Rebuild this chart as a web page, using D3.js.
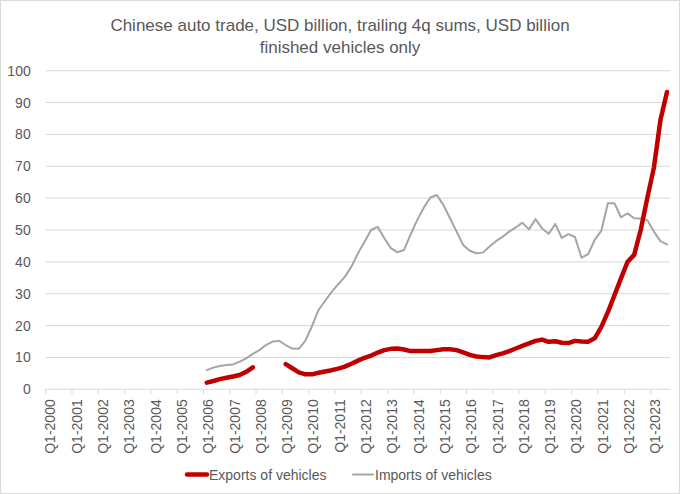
<!DOCTYPE html>
<html>
<head>
<meta charset="utf-8">
<script src="https://cdn.jsdelivr.net/npm/d3@7"></script>
<style>
  body { margin: 0; background: #fff; }
  svg { display: block; font-family: "Liberation Sans", Arial, sans-serif; }
</style>
</head>
<body>
<svg id="chart" width="680" height="494"></svg>
<script>
// categories: Q1-2000 .. Q3-2023
const years = d3.range(2000, 2024);
const quarters = years.flatMap((y) => ["Q1", "Q2", "Q3", "Q4"].map((q) => `${q}-${y}`)).slice(0, 95);
const tickLabels = years.map((y) => `Q1-${y}`);
const yTicks = [0, 10, 20, 30, 40, 50, 60, 70, 80, 90, 100];

// series values, USD billion (null = no data)
const empty24 = new Array(24).fill(null);
const exportsVals = empty24.concat([
  2.1, 2.6, 3.2, 3.6, 4.0, 4.5, 5.5, 6.9,
  null, null, null, null,
  7.9, 6.6, 5.3, 4.7, 4.7, 5.2, 5.6, 6.0,
  6.5, 7.1, 8.0, 9.0, 9.9, 10.6, 11.5, 12.3,
  12.7, 12.8, 12.5, 12.0, 12.0, 12.0, 12.0, 12.3,
  12.6, 12.6, 12.3, 11.6, 10.8, 10.3, 10.1, 10.0,
  10.7, 11.3, 12.0, 12.8, 13.6, 14.4, 15.2, 15.6,
  14.9, 15.1, 14.6, 14.5, 15.2, 15.0, 14.9, 16.0,
  19.5, 24.2, 29.5, 34.8, 40.0, 42.2, 50.0, 60.0,
  69.5, 84.5, 93.3
]);
const importsVals = empty24.concat([
  6.0, 6.8, 7.3, 7.6, 7.8, 8.7, 9.7, 11.1,
  12.3, 13.9, 15.0, 15.2, 13.9, 12.8, 12.7, 15.3,
  19.8, 24.9, 27.8, 30.6, 33.0, 35.3, 38.5, 42.7,
  46.3, 50.0, 51.0, 47.4, 44.3, 43.0, 43.7, 48.6,
  53.1, 57.0, 60.2, 61.0, 57.8, 53.7, 49.5, 45.3,
  43.5, 42.7, 42.9, 44.8, 46.5, 47.9, 49.5, 50.8,
  52.3, 50.2, 53.4, 50.5, 48.8, 51.9, 47.5, 48.7,
  47.8, 41.3, 42.4, 46.9, 49.7, 58.4, 58.4, 54.0,
  55.2, 53.7, 53.6, 53.1, 49.5, 46.5, 45.5
]);

const series = [
  { name: "Exports of vehicles", values: exportsVals, color: "#c00000", width: 4.5 },
  { name: "Imports of vehicles", values: importsVals, color: "#a5a5a5", width: 2 }
];

const svg = d3.select("#chart");
const W = 680, H = 494;
const plot = { left: 45.7, right: 670.3, top: 70.7, bottom: 389.3 };
const textColor = "#595959";
const gridColor = "#d9d9d9";

// chart border
svg.append("rect")
  .attr("x", 0.5).attr("y", 0.5)
  .attr("width", W - 1).attr("height", H - 1)
  .attr("fill", "#fff").attr("stroke", gridColor);

// title
const title = svg.append("text")
  .attr("text-anchor", "middle")
  .attr("fill", textColor)
  .style("font-size", "17px");
title.append("tspan").attr("x", W / 2).attr("y", 31)
  .text("Chinese auto trade, USD billion, trailing 4q sums, USD billion");
title.append("tspan").attr("x", W / 2).attr("y", 53)
  .text("finished vehicles only");

// scales
const x = d3.scaleBand()
  .domain(quarters)
  .range([plot.left, plot.right])
  .paddingInner(0).paddingOuter(0);

const y = d3.scaleLinear()
  .domain([0, 100])
  .range([plot.bottom, plot.top]);

// gridlines
svg.append("g")
  .selectAll("line")
  .data(yTicks.filter((d) => d > 0))
  .join("line")
  .attr("x1", plot.left).attr("x2", plot.right)
  .attr("y1", (d) => y(d)).attr("y2", (d) => y(d))
  .attr("stroke", gridColor).attr("stroke-width", 1);

// y axis labels
const yAxis = svg.append("g")
  .attr("transform", `translate(${plot.left},0)`)
  .call(d3.axisLeft(y).tickValues(yTicks).tickSize(0).tickPadding(15));
yAxis.select(".domain").remove();
yAxis.selectAll("text")
  .attr("fill", textColor)
  .style("font-size", "14px")
  .style("font-family", "'Liberation Sans', Arial, sans-serif");

// x axis line + ticks every 4 quarters (at category boundaries)
const xg = svg.append("g");
xg.append("line")
  .attr("x1", plot.left).attr("x2", plot.right)
  .attr("y1", plot.bottom).attr("y2", plot.bottom)
  .attr("stroke", gridColor);
xg.selectAll("line.tick")
  .data(tickLabels)
  .join("line")
  .attr("class", "tick")
  .attr("x1", (d) => x(d)).attr("x2", (d) => x(d))
  .attr("y1", plot.bottom).attr("y2", plot.bottom + 5)
  .attr("stroke", gridColor);
xg.selectAll("text")
  .data(tickLabels)
  .join("text")
  .attr("transform", (d) => `translate(${x(d) + x.bandwidth() / 2 + 6.5},${plot.bottom + 10}) rotate(-90)`)
  .attr("text-anchor", "end")
  .attr("fill", textColor)
  .style("font-size", "14px")
  .text((d) => d);

// lines
const line = d3.line()
  .defined((d) => d.v != null)
  .x((d) => x(d.q) + x.bandwidth() / 2)
  .y((d) => y(d.v));

svg.append("g")
  .selectAll("path")
  .data(series.slice().reverse())
  .join("path")
  .attr("fill", "none")
  .attr("stroke", (s) => s.color)
  .attr("stroke-width", (s) => s.width)
  .attr("stroke-linejoin", "round")
  .attr("stroke-linecap", "round")
  .attr("d", (s) => line(s.values.map((v, i) => ({ q: quarters[i], v }))));

// legend
const legendItems = [
  { s: series[0], x: 187 },
  { s: series[1], x: 353 }
];
const lg = svg.append("g").attr("transform", "translate(0,474.5)");
lg.selectAll("line")
  .data(legendItems)
  .join("line")
  .attr("x1", (d) => d.x).attr("x2", (d) => d.x + 20)
  .attr("y1", 0).attr("y2", 0)
  .attr("stroke", (d) => d.s.color)
  .attr("stroke-width", (d) => d.s.width)
  .attr("stroke-linecap", "round");
lg.selectAll("text")
  .data(legendItems)
  .join("text")
  .attr("x", (d) => d.x + 22)
  .attr("y", 5)
  .attr("fill", textColor)
  .style("font-size", "14px")
  .text((d) => d.s.name);
</script>
</body>
</html>
